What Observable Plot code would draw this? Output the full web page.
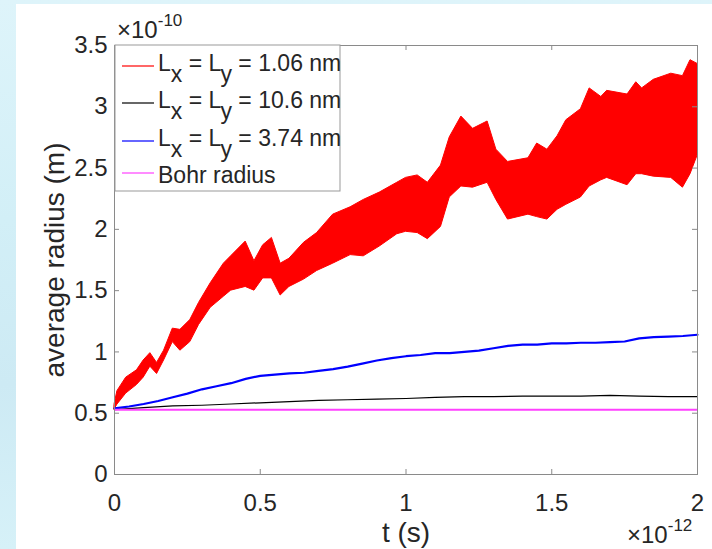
<!DOCTYPE html>
<html><head><meta charset="utf-8">
<script src="https://cdn.jsdelivr.net/npm/d3@7"></script>
<script src="https://cdn.jsdelivr.net/npm/@observablehq/plot@0.6"></script>
<style>
html,body{margin:0;padding:0;width:712px;height:549px;overflow:hidden;background:linear-gradient(180deg,#def4fa 0%,#d2eff7 40%,#cdeaf4 70%,#d6f1f8 100%);}
#chart{position:absolute;left:16px;top:4px;width:696px;height:545px;background:#fff;}
</style></head><body><div id="chart"></div>
<script>
// ---- data (radius in units of 1e-10 m, time in units of 1e-12 s) ----
const tRed    = [0,0.01,0.04,0.077,0.10,0.123,0.146,0.17,0.20,0.226,0.26,0.29,0.33,0.375,0.40,0.45,0.48,0.51,0.54,0.57,0.60,0.65,0.695,0.75,0.81,0.855,0.91,0.97,1.00,1.04,1.075,1.12,1.15,1.19,1.23,1.28,1.31,1.35,1.42,1.45,1.485,1.52,1.55,1.60,1.63,1.67,1.69,1.76,1.79,1.81,1.85,1.91,1.95,1.976,2.00];
const redLow  = [0.53,0.57,0.66,0.73,0.79,0.88,0.82,0.93,1.08,1.01,1.08,1.22,1.36,1.45,1.50,1.53,1.50,1.60,1.60,1.46,1.53,1.59,1.66,1.72,1.79,1.78,1.86,1.96,1.98,1.97,1.92,2.02,2.26,2.35,2.34,2.38,2.24,2.08,2.12,2.10,2.08,2.16,2.20,2.26,2.35,2.40,2.42,2.36,2.45,2.45,2.43,2.42,2.34,2.45,2.60];
const redHigh = [0.57,0.68,0.79,0.85,0.93,0.99,0.91,1.01,1.19,1.18,1.26,1.40,1.56,1.72,1.78,1.90,1.74,1.87,1.93,1.72,1.76,1.89,1.97,2.12,2.18,2.24,2.30,2.38,2.42,2.44,2.38,2.52,2.75,2.92,2.82,2.88,2.65,2.55,2.58,2.70,2.65,2.76,2.89,2.98,3.15,3.08,3.13,3.10,3.20,3.15,3.22,3.27,3.25,3.38,3.35];

const tBlue   = [0,0.05,0.1,0.15,0.2,0.25,0.3,0.35,0.4,0.45,0.5,0.55,0.6,0.65,0.7,0.75,0.8,0.85,0.9,0.95,1.0,1.05,1.1,1.15,1.2,1.25,1.3,1.35,1.4,1.45,1.5,1.55,1.6,1.65,1.7,1.75,1.8,1.85,1.9,1.95,2.0];
const blueR   = [0.54,0.555,0.575,0.60,0.63,0.66,0.695,0.72,0.745,0.78,0.805,0.815,0.825,0.83,0.845,0.86,0.88,0.905,0.93,0.95,0.965,0.975,0.99,0.99,1.0,1.01,1.03,1.05,1.06,1.06,1.07,1.07,1.075,1.075,1.08,1.085,1.11,1.12,1.125,1.13,1.14];

const tBlack  = [0,0.1,0.2,0.3,0.4,0.5,0.6,0.7,0.8,0.9,1.0,1.1,1.2,1.3,1.4,1.5,1.6,1.7,1.8,1.9,2.0];
const blackR  = [0.53,0.545,0.56,0.565,0.575,0.585,0.595,0.605,0.61,0.615,0.62,0.63,0.635,0.635,0.64,0.64,0.64,0.645,0.64,0.635,0.635];

const bohrRadius = 0.529;

const xTicks = [0,0.5,1,1.5,2];
const yTicks = [0,0.5,1,1.5,2,2.5,3,3.5];
const xLabel = "t (s)";
const yLabel = "average radius (m)";
const xExponent = "-12";
const yExponent = "-10";
const seriesLabels = ["L_x = L_y = 1.06 nm","L_x = L_y = 10.6 nm","L_x = L_y = 3.74 nm","Bohr radius"];
const seriesColors = ["#ff0000","#000000","#0000ff","#ff40ff"];

// ---- build ----
const red = tRed.map((t,i)=>({t, lo:redLow[i], hi:redHigh[i]}));
const blue = tBlue.map((t,i)=>({t, r:blueR[i]}));
const black = tBlack.map((t,i)=>({t, r:blackR[i]}));

const W = 696, H = 545;
const mL = 98, mR = 15, mT = 41, mB = 75;
const axisGray = "#8a8a8a";
const textCol = "#262626";
const font = "'Liberation Sans', Arial, Helvetica, sans-serif";
const tickPx = 5;
const xTickLen = tickPx / (H - mT - mB) * 3.5;
const yTickLen = tickPx / (W - mL - mR) * 2;

const plot = Plot.plot({
  width: W, height: H,
  marginLeft: mL, marginRight: mR, marginTop: mT, marginBottom: mB,
  style: {fontFamily: font, background: "transparent", overflow: "visible", color: textCol},
  x: {domain: [0, 2]},
  y: {domain: [0, 3.5]},
  marks: [
    Plot.areaY(red, {x: "t", y1: "lo", y2: "hi", fill: seriesColors[0], stroke: seriesColors[0], strokeWidth: 1}),
    Plot.line(black, {x: "t", y: "r", stroke: seriesColors[1], strokeWidth: 1.2}),
    Plot.line(blue, {x: "t", y: "r", stroke: seriesColors[2], strokeWidth: 2.2}),
    Plot.ruleY([bohrRadius], {stroke: seriesColors[3], strokeWidth: 2}),
    Plot.frame({stroke: axisGray}),
    Plot.ruleX(xTicks.slice(1, -1), {x: d => d, y1: 0, y2: xTickLen, stroke: axisGray}),
    Plot.ruleX(xTicks.slice(1, -1), {x: d => d, y1: 3.5, y2: 3.5 - xTickLen, stroke: axisGray}),
    Plot.ruleY(yTicks.slice(1, -1), {y: d => d, x1: 0, x2: yTickLen, stroke: axisGray}),
    Plot.ruleY(yTicks.slice(1, -1), {y: d => d, x1: 2, x2: 2 - yTickLen, stroke: axisGray}),
    Plot.axisX(xTicks, {tickSize: 0, tickPadding: 19, fontSize: 24, tickFormat: d => String(d), label: null, color: textCol}),
    Plot.axisY(yTicks, {tickSize: 0, tickPadding: 7, fontSize: 24, tickFormat: d => String(d), label: null, color: textCol}),
    Plot.text([xLabel], {text: d => d, frameAnchor: "bottom", dy: 59, fontSize: 28, lineAnchor: "middle", textAnchor: "middle", fill: textCol}),
    Plot.text([yLabel], {text: d => d, frameAnchor: "left", dx: -59, rotate: -90, fontSize: 28, lineAnchor: "middle", textAnchor: "middle", fill: textCol})
  ]
});
document.getElementById("chart").appendChild(plot);

const svg = d3.select(plot);
const g = svg.append("g").attr("font-family", font).attr("fill", textCol).attr("text-anchor", "start");

function exponent(x, y, exp) {
  const t = g.append("text").attr("x", x).attr("y", y).attr("font-size", 24);
  t.append("tspan").text("×10");
  t.append("tspan").attr("dy", -12).attr("font-size", 17).text(exp);
}
exponent(101, 34, yExponent);
exponent(611, 539, xExponent);

// legend
const lg = g.append("g");
lg.append("rect").attr("x", 99).attr("y", 41).attr("width", 225).attr("height", 146)
  .attr("fill", "#fff").attr("stroke", "#999");
const baselines = [67, 104, 142, 179];
seriesLabels.forEach((lab, i) => {
  const hasSub = lab.includes("_");
  const ly = baselines[i] - (hasSub ? 5 : 10);
  lg.append("line").attr("x1", 106).attr("x2", 138).attr("y1", ly).attr("y2", ly)
    .attr("stroke", seriesColors[i]).attr("stroke-width", 1.2);
  const t = lg.append("text").attr("x", 142).attr("y", baselines[i]).attr("font-size", 23);
  const parts = lab.split(/(_[a-z])/);
  let n = 0;
  parts.forEach(p => {
    if (p.startsWith("_")) {
      t.append("tspan").attr("dy", 11).text(p.slice(1));
      n++;
    } else if (p.length) {
      const s = t.append("tspan").text(p);
      if (n > 0) s.attr("dy", -11);
      n++;
    }
  });
});
</script>
</body></html>
